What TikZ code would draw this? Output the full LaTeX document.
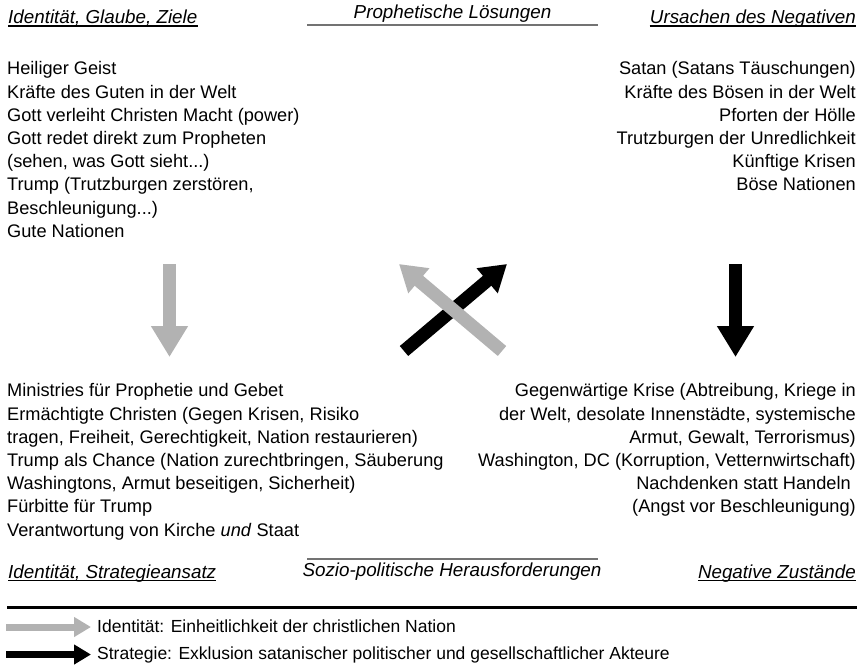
\documentclass[tikz,border=0pt]{standalone}
\usepackage{fontspec}
\setmainfont{Liberation Sans}
\usepackage{tikz}
\usetikzlibrary{arrows.meta}
\definecolor{identgray}{RGB}{178,178,178}

\begin{document}
\begin{tikzpicture} [x=1pt, y=-1pt,
  txt/.style={inner sep=0pt, font=\fontsize{18.2}{23.2}\selectfont},
  head/.style={inner sep=0pt, font=\fontsize{18.8}{21}\selectfont\itshape},
  leg/.style={inner sep=0pt, font=\fontsize{17.5}{21}\selectfont},
  uline/.style={line width=1.1pt},
  bigarrow/.style={line width=13pt, -{Triangle[length=31pt, width=35pt]}},
  crossarrow/.style={line width=13pt, -{Triangle[length=26pt, width=31pt]}},
  legarrow/.style={line width=7pt, -{Triangle[length=17pt, width=19pt]}}]
\useasboundingbox (0,0) rectangle (864,667);
\node[head, anchor=base west](hid1) at (8,23.5){Identität, Glaube, Ziele};
\node[head, anchor=base east](hneg1) at (856,23.5){Ursachen des Negativen};
\node[head, anchor=base](hsol) at (452.5,18.3){Prophetische Lösungen};
\node[head, anchor=base west](hid2) at (8,578){Identität, Strategieansatz};
\node[head, anchor=base east](hneg2) at (856,578){Negative Zustände};
\node[head, anchor=base](hsoz) at (452,576.7){Sozio-politische Herausforderungen};
\draw [uline] ([yshift=-2.5pt]hid1.base west) -- ([yshift=-2.5pt]hid1.base east);
\draw [uline] ([yshift=-2.5pt]hneg1.base west) -- ([yshift=-2.5pt]hneg1.base east);
\draw [uline] ([yshift=-2.5pt]hid2.base west) -- ([yshift=-2.5pt]hid2.base east);
\draw [uline] ([yshift=-2.5pt]hneg2.base west) -- ([yshift=-2.5pt]hneg2.base east);
\draw [black!55, line width=1.8pt] (hsol.base) ++(-145.5,6.4) -- ++(291,0);
\draw [black!55, line width=1.8pt] (hsoz.base) ++(-145,-17.7) -- ++(291,0);
\node[txt, anchor=north west, align=left](goals) at (7,61.5){Heiliger Geist\\Kräfte des Guten in der Welt\\Gott verleiht Christen Macht (power)\\Gott redet direkt zum Propheten\\(sehen, was Gott sieht...)\\Trump (Trutzburgen zerstören,\\Beschleunigung...)\\Gute Nationen};
\node[txt, anchor=north east, align=right](causes) at (856,61.5){Satan (Satans Täuschungen)\\Kräfte des Bösen in der Welt\\Pforten der Hölle\\Trutzburgen der Unredlichkeit\\Künftige Krisen\\Böse Nationen};
\node[txt, anchor=north west, align=left](strat) at (7,383.5){Ministries für Prophetie und Gebet\\Ermächtigte Christen (Gegen Krisen, Risiko\\tragen, Freiheit, Gerechtigkeit, Nation restaurieren)\\Trump als Chance (Nation zurechtbringen, Säuberung\\Washingtons, Armut beseitigen, Sicherheit)\\Fürbitte für Trump\\Verantwortung von Kirche \textit{und} Staat};
\node[txt, anchor=north east, align=right](states) at (856,383.5){Gegenwärtige Krise (Abtreibung, Kriege in\\der Welt, desolate Innenstädte, systemische\\Armut, Gewalt, Terrorismus)\\Washington, DC (Korruption, Vetternwirtschaft)\\Nachdenken statt Handeln\kern5pt\\(Angst vor Beschleunigung)};
\coordinate (ga) at (169.5,264);
\coordinate (gb) at (169.5,357);
\coordinate (ba) at (735.5,264);
\coordinate (bb) at (735.5,357);
\coordinate (xa) at (404,351);
\coordinate (xb) at (507,264);
\coordinate (ya) at (502,351);
\coordinate (yb) at (399,264);
\draw [bigarrow, identgray] (ga) -- (gb);
\draw [bigarrow] (ba) -- (bb);
\draw [crossarrow] (xa) -- (xb);
\draw [crossarrow, identgray] (ya) -- (yb);
\draw [line width=2.5pt] (7,607.7) -- (857,607.7);
\node[leg, anchor=base west](lg1) at (97,632){Identität: Einheitlichkeit der christlichen Nation};
\node[leg, anchor=base west](lg2) at (97,659){Strategie: Exklusion satanischer politischer und gesellschaftlicher Akteure};
\coordinate (la) at (6,627);
\coordinate (lb) at (6,654.5);
\draw [legarrow, identgray, shorten >=6pt] (la) -- (la -| lg1.west);
\draw [legarrow, shorten >=6pt] (lb) -- (lb -| lg2.west);
\end{tikzpicture}
\end{document}
